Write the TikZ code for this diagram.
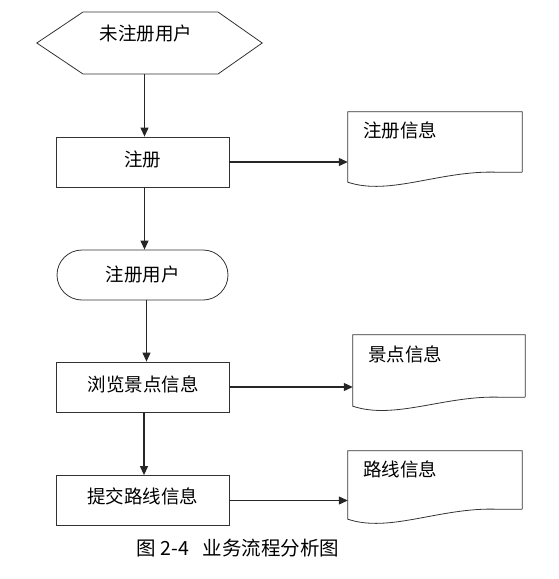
\documentclass[tikz,border=0pt]{standalone}
\usepackage{fontspec}
\setmainfont{Noto Sans CJK SC}
\usetikzlibrary{arrows.meta,calc}
\begin{document}
\begin{tikzpicture}[x=1pt,y=1pt,
  shp/.style={draw=black!80, line width=0.8pt},
  boxstep/.style={shp, rectangle, minimum width=173pt, minimum height=50pt, inner sep=0pt, font=\fontsize{18.5}{21}\selectfont},
  ghost/.style={rectangle, inner sep=0pt},
  lbl/.style={inner sep=0pt, font=\fontsize{18.5}{21}\selectfont},
  arr/.style={draw=black!85, line width=1.1pt, -{Triangle[length=9pt,width=8pt]}}
]
\useasboundingbox (0,0) rectangle (559,-579);

% start hexagon
\node[ghost, minimum width=225pt, minimum height=62pt] (start) at (149.5,-43) {};
\draw[shp] (start.west) -- (83,-12) -- (218,-12) -- (start.east) -- (218,-74) -- (83,-74) -- cycle;
\node[lbl] (startlbl) at (146,-33) {未注册用户};

% register box
\node[boxstep] (reg) at (142.5,-162) {};
\node[lbl] (reglbl) at ([yshift=3pt]reg.center) {注册};

% document 1
\node[ghost, minimum width=174pt, minimum height=60pt] (doc1) at (435,-142) {};
\draw[shp] (doc1.south east) -- (doc1.north east) -- (doc1.north west) -- ($(doc1.south west)+(0,-10)$)
  .. controls ($(doc1.south west)+(42,-24)$) and ($(doc1.south west)+(92,2)$) .. ($(doc1.south east)+(-25,0)$) -- (doc1.south east);
\node[lbl, anchor=north west] (doc1lbl) at ($(doc1.north west)+(15,-10)$) {注册信息};

% registered user stadium
\node[shp, rectangle, rounded corners=25pt, minimum width=171pt, minimum height=50pt, inner sep=0pt] (user) at (142.5,-275) {};
\node[lbl] (userlbl) at ([yshift=1pt]user.center) {注册用户};

% browse box
\node[boxstep] (browse) at (143,-387) {};
\node[lbl] (browselbl) at ([yshift=3pt]browse.center) {浏览景点信息};

% document 2
\node[ghost, minimum width=172pt, minimum height=62pt] (doc2) at (439,-366) {};
\draw[shp] (doc2.south east) -- (doc2.north east) -- (doc2.north west) -- ($(doc2.south west)+(0,-9)$)
  .. controls ($(doc2.south west)+(42,-23)$) and ($(doc2.south west)+(92,2)$) .. ($(doc2.south east)+(-25,0)$) -- (doc2.south east);
\node[lbl, anchor=north west] (doc2lbl) at ($(doc2.north west)+(15,-11)$) {景点信息};

% submit box
\node[boxstep] (submit) at (142.5,-500.5) {};
\node[lbl] (submitlbl) at ([yshift=4pt]submit.center) {提交路线信息};

% document 3
\node[ghost, minimum width=174pt, minimum height=58pt] (doc3) at (435,-480) {};
\draw[shp] (doc3.south east) -- (doc3.north east) -- (doc3.north west) -- ($(doc3.south west)+(0,-10)$)
  .. controls ($(doc3.south west)+(42,-24)$) and ($(doc3.south west)+(92,2)$) .. ($(doc3.south east)+(-25,0)$) -- (doc3.south east);
\node[lbl, anchor=north west] (doc3lbl) at ($(doc3.north west)+(15,-10)$) {路线信息};

% caption
\node[inner sep=0pt, font=\fontsize{19.5}{22}\selectfont] (cap) at (238,-548) {图 2-4\hspace{0.7em}业务流程分析图};

% connectors
\draw[arr] ([xshift=2pt]reg.north |- start.south) -- ([xshift=2pt]reg.north);
\draw[arr] (reg.east) -- (reg.east -| doc1.west);
\draw[arr] ([xshift=2pt]reg.south) -- ([xshift=2pt]reg.south |- user.north);
\draw[arr] ([xshift=4pt]user.south) -- ([xshift=4pt]user.south |- browse.north);
\draw[arr] (browse.east) -- (browse.east -| doc2.west);
\draw[arr] ([xshift=1pt]browse.south) -- ([xshift=1pt]browse.south |- submit.north);
\draw[arr] (submit.east) -- (submit.east -| doc3.west);
\end{tikzpicture}
\end{document}
